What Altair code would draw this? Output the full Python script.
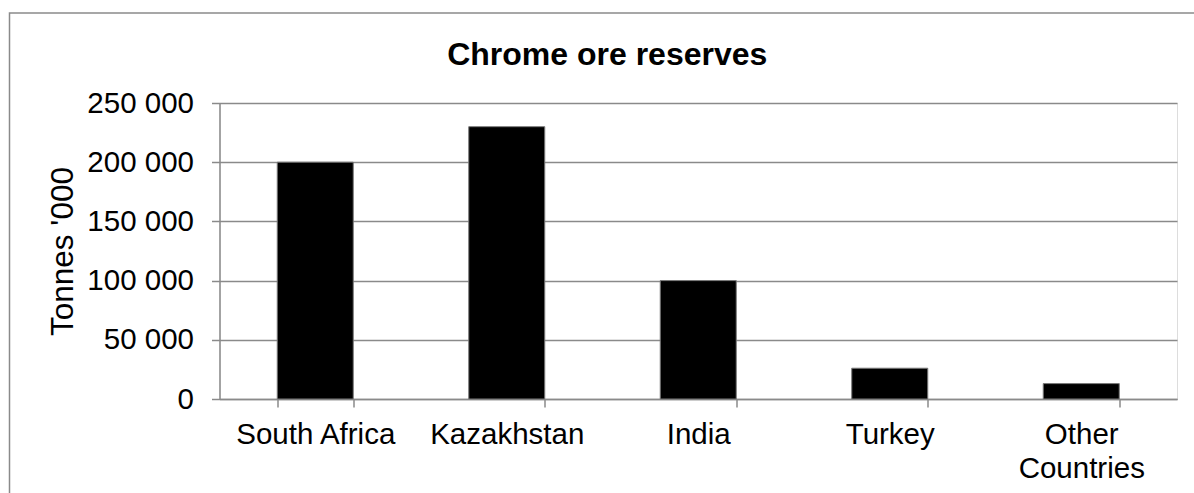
import altair as alt
import pandas as pd

countries = ["South Africa", "Kazakhstan", "India", "Turkey", "Other Countries"]
reserves = [200000, 230000, 100000, 26000, 13000]
y_ticks = [0, 50000, 100000, 150000, 200000, 250000]

df = pd.DataFrame({"country": countries, "reserves": reserves})

GREY = "#8a8a8a"
FONT = "Liberation Sans"

bars = alt.Chart(df).mark_bar(color="black", stroke="#7a7a7a", strokeWidth=1).encode(
    x=alt.X(
        "country:N",
        sort=countries,
        title=None,
        scale=alt.Scale(paddingInner=0.603, paddingOuter=0.3015),
        axis=alt.Axis(
            labelAngle=0,
            labelFont=FONT,
            labelFontSize=29.5,
            labelColor="black",
            labelPadding=13,
            labelLineHeight=34,
            labelExpr="datum.label == 'Other Countries' ? ['Other', 'Countries'] : datum.label",
            tickBand="extent",
            tickSize=8,
            tickColor=GREY,
            tickWidth=1.5,
            domainColor=GREY,
            domainWidth=1.5,
            grid=False,
        ),
    ),
    y=alt.Y(
        "reserves:Q",
        title="Tonnes '000",
        scale=alt.Scale(domain=[0, 250000], nice=False),
        axis=alt.Axis(
            values=y_ticks,
            labelFont=FONT,
            labelFontSize=29.5,
            labelColor="black",
            labelPadding=18,
            labelExpr="replace(format(datum.value, ','), ',', ' ')",
            tickSize=8,
            tickColor=GREY,
            tickWidth=1.5,
            domainColor=GREY,
            domainWidth=1.5,
            gridColor=GREY,
            gridWidth=1.5,
            titleFont=FONT,
            titleFontSize=31.5,
            titleFontWeight="normal",
            titleColor="black",
            titleX=-147,
            titleY=148,
            titleBaseline="alphabetic",
        ),
    ),
)

frame_df = pd.DataFrame({"k": [0]})
frame = alt.Chart(frame_df).mark_rect(fill=None, stroke=GREY, strokeWidth=1.5).encode(
    x=alt.value(-210),
    x2=alt.value(985),
    y=alt.value(-90),
    y2=alt.value(420),
)

chart = alt.layer(frame, bars).properties(
    width=957.5,
    height=296,
    title=alt.Title(
        "Chrome ore reserves",
        font=FONT,
        fontSize=32,
        fontWeight="bold",
        color="black",
        anchor="middle",
        frame="group",
        baseline="alphabetic",
        dx=-91,
        offset=-85,
    ),
    autosize=alt.AutoSizeParams(type="none"),
    padding={"left": 219.5, "top": 103, "right": 17, "bottom": 94},
).configure_view(stroke=None).configure(background="white")

chart.save("out.html", embed_options={"renderer": "svg", "actions": False})
